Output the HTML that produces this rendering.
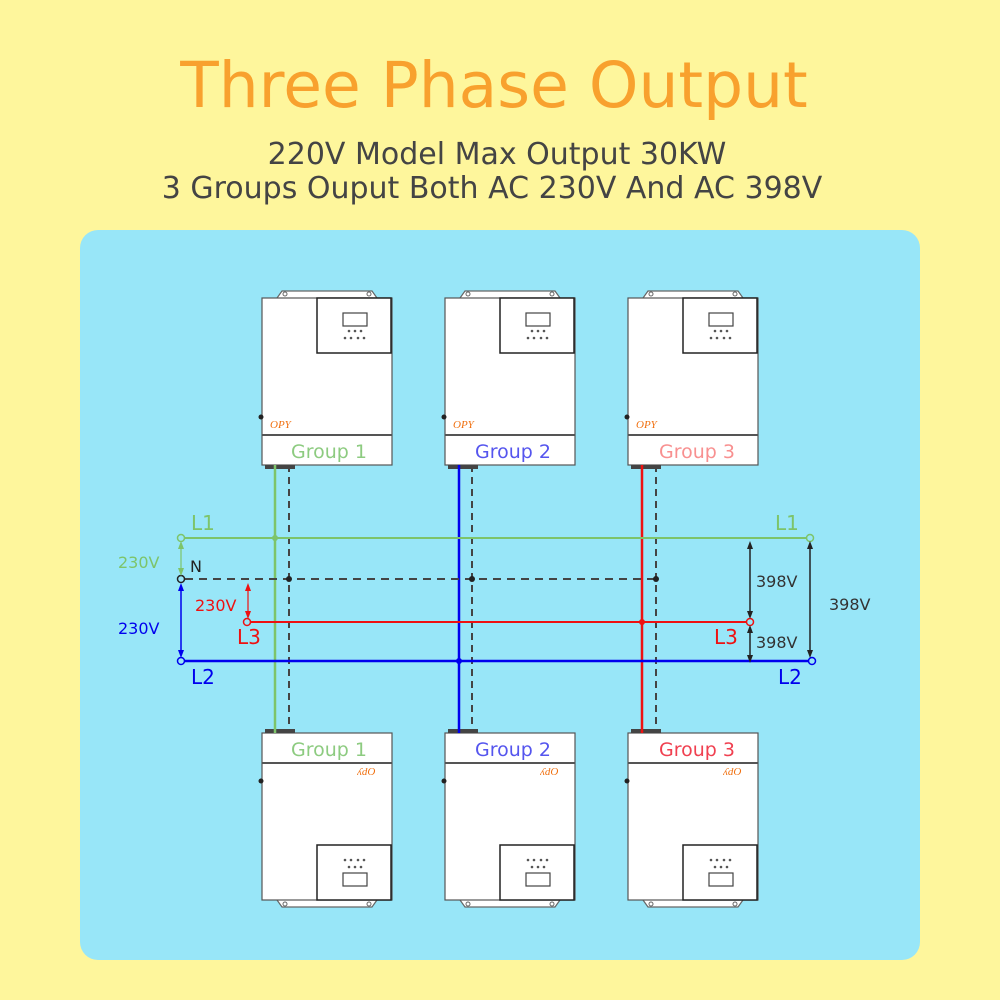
<!DOCTYPE html>
<html><head><meta charset="utf-8"><style>
html,body{margin:0;padding:0;background:#FEF69C;}
svg{display:block}
text{font-family:"DejaVu Sans","Liberation Sans",sans-serif}
text.lg{font-family:"Liberation Serif",serif;font-style:italic}
</style></head><body>
<svg width="1000" height="1000" viewBox="0 0 1000 1000" xmlns="http://www.w3.org/2000/svg">
<defs>
<marker id="ak" markerWidth="8" markerHeight="8" refX="4" refY="4" orient="auto-start-reverse" markerUnits="userSpaceOnUse"><path d="M0,1 L8,4 L0,7 z" fill="#222"/></marker>
<marker id="ag" markerWidth="8" markerHeight="8" refX="4" refY="4" orient="auto-start-reverse" markerUnits="userSpaceOnUse"><path d="M0,1 L8,4 L0,7 z" fill="#7DC46A"/></marker>
<marker id="ab" markerWidth="8" markerHeight="8" refX="4" refY="4" orient="auto-start-reverse" markerUnits="userSpaceOnUse"><path d="M0,1 L8,4 L0,7 z" fill="#0000EE"/></marker>
<marker id="ar" markerWidth="8" markerHeight="8" refX="4" refY="4" orient="auto-start-reverse" markerUnits="userSpaceOnUse"><path d="M0,1 L8,4 L0,7 z" fill="#EE1111"/></marker>
<g id="top">
  <path d="M277,298 L282,291 L372,291 L377,298" fill="#fff" stroke="#666" stroke-width="1.2"/>
  <circle cx="285" cy="294" r="2" fill="none" stroke="#666"/><circle cx="369" cy="294" r="2" fill="none" stroke="#666"/>
  <rect x="262" y="298" width="130" height="167" fill="#fff" stroke="#555" stroke-width="1.2"/>
  <rect x="317" y="298" width="74" height="55" fill="#fff" stroke="#222" stroke-width="1.5"/>
  <rect x="343" y="313" width="24" height="13" fill="none" stroke="#444" stroke-width="1.2"/>
  <g fill="#555"><circle cx="349" cy="331" r="1.3"/><circle cx="355" cy="331" r="1.3"/><circle cx="361" cy="331" r="1.3"/>
  <circle cx="345" cy="338" r="1.3"/><circle cx="351" cy="338" r="1.3"/><circle cx="358" cy="338" r="1.3"/><circle cx="364" cy="338" r="1.3"/></g>
  <line x1="262" y1="435" x2="392" y2="435" stroke="#555" stroke-width="2"/>
  <circle cx="261" cy="417" r="2.5" fill="#222"/>
  <text class="lg" x="270" y="428" font-size="11" fill="#F07010">OPY</text>
  <rect x="265" y="465" width="30" height="4" fill="#444"/>
</g>
<g id="bot">
  <path d="M277,900 L282,907 L372,907 L377,900" fill="#fff" stroke="#666" stroke-width="1.2"/>
  <circle cx="285" cy="904" r="2" fill="none" stroke="#666"/><circle cx="369" cy="904" r="2" fill="none" stroke="#666"/>
  <rect x="262" y="733" width="130" height="167" fill="#fff" stroke="#555" stroke-width="1.2"/>
  <rect x="317" y="845" width="74" height="55" fill="#fff" stroke="#222" stroke-width="1.5"/>
  <rect x="343" y="873" width="24" height="13" fill="none" stroke="#444" stroke-width="1.2"/>
  <g fill="#555"><circle cx="345" cy="860" r="1.3"/><circle cx="351" cy="860" r="1.3"/><circle cx="358" cy="860" r="1.3"/><circle cx="364" cy="860" r="1.3"/>
  <circle cx="349" cy="867" r="1.3"/><circle cx="355" cy="867" r="1.3"/><circle cx="361" cy="867" r="1.3"/></g>
  <line x1="262" y1="763" x2="392" y2="763" stroke="#555" stroke-width="2"/>
  <circle cx="261" cy="781" r="2.5" fill="#222"/>
  <text class="lg" x="357" y="775" font-size="11" fill="#F07010">ʎdO</text>
  <rect x="265" y="729" width="30" height="4" fill="#444"/>
</g>
</defs>
<rect width="1000" height="1000" fill="#FEF69C"/>
<rect x="80" y="230" width="840" height="730" rx="18" fill="#98E6F8"/>
<text x="494" y="107" text-anchor="middle" font-size="63" fill="#F8A12E">Three Phase Output</text>
<text x="497" y="164" text-anchor="middle" font-size="30" fill="#444">220V Model Max Output 30KW</text>
<text x="492" y="198" text-anchor="middle" font-size="30" fill="#444">3 Groups Ouput Both AC 230V And AC 398V</text>

<use href="#top"/><use href="#top" x="183"/><use href="#top" x="366"/>
<use href="#bot"/><use href="#bot" x="183"/><use href="#bot" x="366"/>
<g font-size="19" text-anchor="middle">
<text x="329" y="458" fill="#8DCB80">Group 1</text>
<text x="513" y="458" fill="#5555EE">Group 2</text>
<text x="697" y="458" fill="#F89090">Group 3</text>
<text x="329" y="756" fill="#8DCB80">Group 1</text>
<text x="513" y="756" fill="#5555EE">Group 2</text>
<text x="697" y="756" fill="#F04050">Group 3</text>
</g>

<line x1="275" y1="465" x2="275" y2="733" stroke="#7DC46A" stroke-width="2.5"/>
<line x1="459" y1="465" x2="459" y2="733" stroke="#0000EE" stroke-width="2.5"/>
<line x1="642" y1="465" x2="642" y2="733" stroke="#EE1111" stroke-width="2.5"/>
<g stroke="#444" stroke-width="2" stroke-dasharray="7,5">
<line x1="289" y1="465" x2="289" y2="733"/><line x1="472" y1="465" x2="472" y2="733"/><line x1="656" y1="465" x2="656" y2="733"/>
</g>
<line x1="184" y1="538" x2="807" y2="538" stroke="#7DC46A" stroke-width="2"/>
<line x1="185" y1="579" x2="656" y2="579" stroke="#444" stroke-width="2" stroke-dasharray="8,6"/>
<line x1="251" y1="622" x2="746" y2="622" stroke="#EE1111" stroke-width="2"/>
<line x1="185" y1="661" x2="808" y2="661" stroke="#0000EE" stroke-width="2.5"/>
<circle cx="181" cy="538" r="3.5" fill="#98E6F8" stroke="#7DC46A" stroke-width="1.5"/>
<circle cx="810" cy="538" r="3.5" fill="#98E6F8" stroke="#7DC46A" stroke-width="1.5"/>
<circle cx="181" cy="579" r="3.5" fill="#98E6F8" stroke="#222" stroke-width="1.5"/>
<circle cx="247" cy="622" r="3.5" fill="#98E6F8" stroke="#EE1111" stroke-width="1.5"/>
<circle cx="750" cy="622" r="3.5" fill="#98E6F8" stroke="#EE1111" stroke-width="1.5"/>
<circle cx="181" cy="661" r="3.5" fill="#98E6F8" stroke="#0000EE" stroke-width="1.5"/>
<circle cx="812" cy="661" r="3.5" fill="#98E6F8" stroke="#0000EE" stroke-width="1.5"/>
<circle cx="275" cy="538" r="3" fill="#7DC46A"/>
<circle cx="289" cy="579" r="3" fill="#222"/><circle cx="472" cy="579" r="3" fill="#222"/><circle cx="656" cy="579" r="3" fill="#222"/>
<circle cx="459" cy="661" r="3" fill="#0000EE"/>
<circle cx="642" cy="622" r="3" fill="#EE1111"/>
<line x1="181" y1="545" x2="181" y2="572" stroke="#7DC46A" stroke-width="1.2" marker-start="url(#ag)" marker-end="url(#ag)"/>
<line x1="181" y1="587" x2="181" y2="654" stroke="#0000EE" stroke-width="1.5" marker-start="url(#ab)" marker-end="url(#ab)"/>
<line x1="248" y1="587" x2="248" y2="615" stroke="#EE1111" stroke-width="1.2" marker-start="url(#ar)" marker-end="url(#ar)"/>
<line x1="750" y1="545" x2="750" y2="615" stroke="#222" stroke-width="1.5" marker-start="url(#ak)" marker-end="url(#ak)"/>
<line x1="750" y1="629" x2="750" y2="659" stroke="#222" stroke-width="1.5" marker-start="url(#ak)" marker-end="url(#ak)"/>
<line x1="810" y1="545" x2="810" y2="654" stroke="#222" stroke-width="1.5" marker-start="url(#ak)" marker-end="url(#ak)"/>
<g font-size="20">
<text x="191" y="530" fill="#7DC46A">L1</text>
<text x="775" y="530" fill="#7DC46A">L1</text>
<text x="191" y="684" fill="#0000EE">L2</text>
<text x="778" y="684" fill="#0000EE">L2</text>
<text x="237" y="644" fill="#EE1111">L3</text>
<text x="714" y="644" fill="#EE1111">L3</text>
</g>
<g font-size="16">
<text x="190" y="572" fill="#222">N</text>
<text x="118" y="568" fill="#7DC46A">230V</text>
<text x="118" y="634" fill="#0000EE">230V</text>
<text x="195" y="611" fill="#EE1111">230V</text>
<text x="756" y="587" fill="#333">398V</text>
<text x="756" y="648" fill="#333">398V</text>
<text x="829" y="610" fill="#333">398V</text>
</g>
</svg>
</body></html>
